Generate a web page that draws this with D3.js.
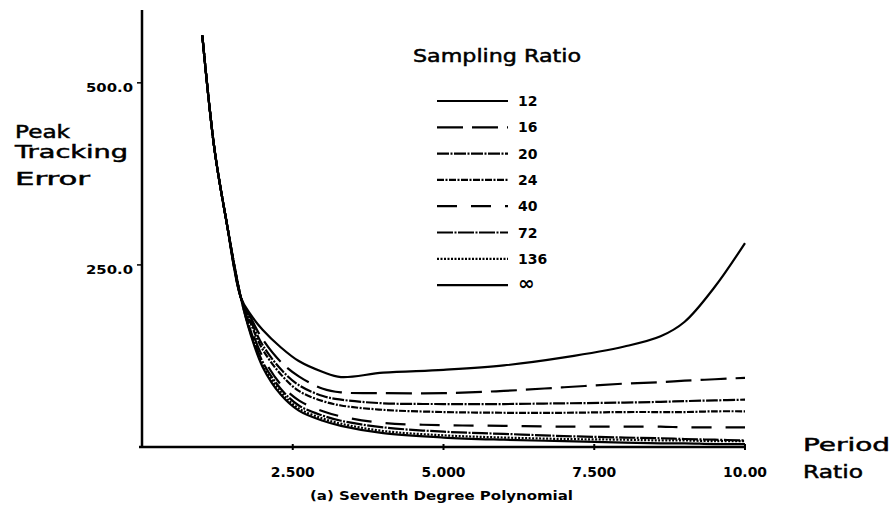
<!DOCTYPE html>
<meta charset="utf-8">
<style>
body { margin: 0; background: #fff; }
svg { display: block; }
text { font-family: "DejaVu Sans", sans-serif; fill: #000; }
.tick-label { font-size: 12px; font-weight: bold; }
.xtick-label { font-size: 14px; font-weight: bold; text-anchor: middle; }
.title { font-size: 18px; stroke: #000; stroke-width: 0.5px; }
.legend-label { font-size: 14px; font-weight: bold; }
.caption { font-size: 12px; font-weight: bold; }
.curve { fill: none; stroke: #000; stroke-width: 2.2px; }
</style>
<svg width="895" height="507"></svg>
<script src="https://d3js.org/d3.v7.min.js"></script>
<script>

var periodRatio = [1.0, 1.2, 1.4, 1.64, 1.8, 2.0, 2.3, 2.6, 3.0, 3.3, 4.0, 5.0, 6.0, 7.0, 8.0, 8.6, 9.0, 9.5, 10.0];

// peak tracking error, one list per sampling ratio
var ratio12  = [565, 410, 310, 205, 182, 161, 137, 118, 103, 96, 102, 106, 112, 123, 138, 152, 172, 220, 280];
var ratio16  = [565, 410, 310, 205, 178, 148, 117, 97, 80, 75, 74, 74, 77, 82, 87, 89, 91, 93, 95];
var ratio20  = [565, 410, 310, 205, 174, 140, 107, 85, 70, 65, 60, 59, 59, 60, 61, 62, 63, 64, 65];
var ratio24  = [565, 410, 310, 205, 170, 134, 100, 77, 63, 57, 51, 48, 47, 47, 48, 48, 48, 49, 49];
var ratio40  = [565, 410, 310, 205, 165, 124, 86, 64, 49, 42, 33, 30, 29, 28, 28, 28, 27, 27, 27];
var ratio72  = [565, 410, 310, 205, 160, 117, 80, 57, 43, 36, 27, 21, 18, 15, 13, 12, 11, 10, 9];
var ratio136 = [565, 410, 310, 205, 157, 113, 76, 53, 39, 32, 22, 16, 13, 11, 10, 9, 9, 8, 8];
var ratioInf = [565, 410, 310, 205, 155, 110, 72, 50, 36, 29, 19, 13, 10, 8, 6, 5, 5, 4, 4];

var legendLabels = ["12", "16", "20", "24", "40", "72", "136", "\u221e"];
var xTicks = [2.5, 5, 7.5, 10];
var xTickLabels = ["2.500", "5.000", "7.500", "10.00"];
var yTicks = [250, 500];
var yTickLabels = ["250.0", "500.0"];

var series = [ratio12, ratio16, ratio20, ratio24, ratio40, ratio72, ratio136, ratioInf];
var dashes = [null, "26,9", "12,1.5,2,1.5", "7,1.5,2,1.5", "20,14", "16,1.5,2,1.5", "2,1.5", null];

var svg = d3.select("svg");

var x = d3.scaleLinear().domain([0, 10]).range([142, 745]);
var y = d3.scaleLinear().domain([0, 600]).range([447, 10]);

// axes
svg.append("line")
    .attr("x1", x(0)).attr("x2", x(0))
    .attr("y1", y(600)).attr("y2", y(0) + 1)
    .attr("stroke", "#000").attr("stroke-width", 2.5);
svg.append("line")
    .attr("x1", x(0) - 3).attr("x2", x(10))
    .attr("y1", y(0)).attr("y2", y(0))
    .attr("stroke", "#000").attr("stroke-width", 2.5);

svg.selectAll(".xtick").data(xTicks).enter().append("line")
    .attr("x1", d => x(d)).attr("x2", d => x(d))
    .attr("y1", y(0) - 3).attr("y2", y(0) + 3)
    .attr("stroke", "#000").attr("stroke-width", 2);

svg.selectAll(".xtick-label").data(xTicks).enter().append("text")
    .attr("class", "xtick-label")
    .attr("x", d => x(d)).attr("y", 477)
    .attr("textLength", 44).attr("lengthAdjust", "spacingAndGlyphs")
    .text((d, i) => xTickLabels[i]);

svg.selectAll(".ytick").data(yTicks).enter().append("line")
    .attr("x1", x(0) - 5).attr("x2", x(0))
    .attr("y1", d => y(d)).attr("y2", d => y(d))
    .attr("stroke", "#000").attr("stroke-width", 1.5);

svg.selectAll(".tick-label").data(yTicks).enter().append("text")
    .attr("class", "tick-label")
    .attr("x", 86).attr("y", d => y(d) + 9)
    .attr("textLength", 47).attr("lengthAdjust", "spacingAndGlyphs")
    .text((d, i) => yTickLabels[i]);

// axis titles
var yTitle = [["Peak", 138, 55], ["Tracking", 158, 113], ["Error", 185, 75]];
yTitle.forEach(function(t) {
  svg.append("text").attr("class", "title")
      .attr("x", 15).attr("y", t[1])
      .attr("textLength", t[2]).attr("lengthAdjust", "spacingAndGlyphs")
      .text(t[0]);
});
svg.append("text").attr("class", "title")
    .attr("x", 803).attr("y", 451)
    .attr("textLength", 87).attr("lengthAdjust", "spacingAndGlyphs")
    .text("Period");
svg.append("text").attr("class", "title")
    .attr("x", 803).attr("y", 478)
    .attr("textLength", 60).attr("lengthAdjust", "spacingAndGlyphs")
    .text("Ratio");

svg.append("text").attr("class", "title")
    .attr("x", 413).attr("y", 62)
    .attr("textLength", 168).attr("lengthAdjust", "spacingAndGlyphs")
    .text("Sampling Ratio");

svg.append("text").attr("class", "caption")
    .attr("x", 310).attr("y", 500)
    .attr("textLength", 263).attr("lengthAdjust", "spacingAndGlyphs")
    .text("(a) Seventh Degree Polynomial");

// curves, drawn bottom to top so the solid 12 curve sits on top
var line = d3.line()
    .x((d, i) => x(periodRatio[i]))
    .y(d => y(d))
    .curve(d3.curveCatmullRom.alpha(0.5));

for (var k = series.length - 1; k >= 0; k--) {
  svg.append("path")
      .attr("class", "curve")
      .attr("d", line(series[k]))
      .attr("stroke-dasharray", dashes[k]);
}

// legend
var legend = svg.selectAll(".legend").data(legendLabels).enter().append("g")
    .attr("transform", (d, i) => "translate(437," + (101 + i * 26.3) + ")");

legend.append("line")
    .attr("x1", 0).attr("x2", 71)
    .attr("stroke", "#000").attr("stroke-width", 2.2)
    .attr("stroke-dasharray", (d, i) => dashes[i]);

legend.append("text")
    .attr("class", "legend-label")
    .attr("x", 81).attr("y", 5)
    .style("font-size", d => d == "\u221e" ? "20px" : null)
    .text(d => d);

</script>
